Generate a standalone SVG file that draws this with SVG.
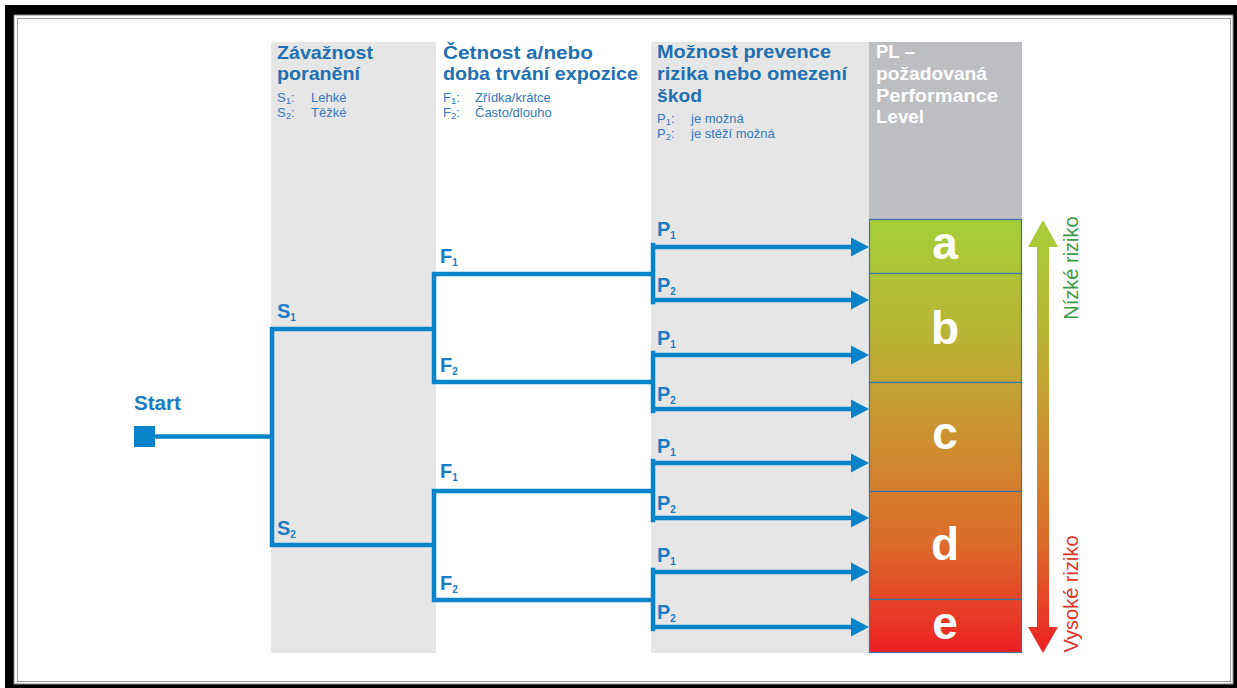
<svg xmlns="http://www.w3.org/2000/svg" width="1237" height="688" viewBox="0 0 1237 688">
<style>
.h{font-family:"Liberation Sans",Arial,sans-serif;font-weight:bold;font-size:18.5px;fill:#1f6fb2}
.hw{font-family:"Liberation Sans",Arial,sans-serif;font-weight:bold;font-size:18.5px;fill:#ffffff}
.s{font-family:"Liberation Sans",Arial,sans-serif;font-size:13px;fill:#3479bd}
.ss{font-size:9.5px}
.b{font-family:"Liberation Sans",Arial,sans-serif;font-weight:bold;font-size:20px;fill:#1a7cc4}
.bs{font-size:10px}
.l{font-family:"Liberation Sans",Arial,sans-serif;font-weight:bold;font-size:46px;fill:#ffffff;text-anchor:middle}
.c{fill:none;stroke:#0983c9;stroke-width:4.5}
.box{stroke:#3576a8;stroke-width:1.2}
.r{font-family:"Liberation Sans",Arial,sans-serif;font-size:20px;text-anchor:middle}
</style>
<defs>
<linearGradient id="g" gradientUnits="userSpaceOnUse" x1="0" y1="219" x2="0" y2="653">
<stop offset="0" stop-color="#a6ce39"/>
<stop offset="0.256" stop-color="#b8b535"/>
<stop offset="0.502" stop-color="#cd9130"/>
<stop offset="0.751" stop-color="#dc6a2a"/>
<stop offset="0.947" stop-color="#ea3125"/>
<stop offset="1" stop-color="#ed1c24"/>
</linearGradient>
<marker id="ah" markerUnits="userSpaceOnUse" markerWidth="18" markerHeight="20" refX="1" refY="10" orient="auto">
<path d="M0,0.5 L18,10 L0,19.5 z" fill="#0983c9"/>
</marker>
</defs>

<g id="frame">
<rect x="5" y="5" width="1232" height="683" fill="#000"/>
<rect x="14" y="15" width="1219" height="669" fill="#fff" stroke="#8a8a8a" stroke-width="1"/>
<rect x="17.5" y="18.5" width="1213" height="663" fill="none" stroke="#a0a0a0" stroke-width="1"/>
</g>

<g id="columns">
<rect x="271" y="42" width="165" height="611" fill="#e6e6e6"/>
<rect x="651" y="42" width="218" height="611" fill="#e6e6e6"/>
<rect x="869" y="42" width="153" height="177" fill="#bdbec2"/>
</g>

<g id="col-severity">
<text class="h" x="277" y="59" textLength="96" lengthAdjust="spacingAndGlyphs">Závažnost</text>
<text class="h" x="277" y="80" textLength="83" lengthAdjust="spacingAndGlyphs">poranění</text>
<text class="s" x="277" y="102">S<tspan class="ss" dy="2">1</tspan><tspan dy="-2">:</tspan><tspan x="311">Lehké</tspan></text>
<text class="s" x="277" y="117">S<tspan class="ss" dy="2">2</tspan><tspan dy="-2">:</tspan><tspan x="311">Těžké</tspan></text>
</g>

<g id="col-frequency">
<text class="h" x="443" y="59" textLength="150" lengthAdjust="spacingAndGlyphs">Četnost a/nebo</text>
<text class="h" x="443" y="80" textLength="195" lengthAdjust="spacingAndGlyphs">doba trvání expozice</text>
<text class="s" x="443" y="102">F<tspan class="ss" dy="2">1</tspan><tspan dy="-2">:</tspan><tspan x="475">Zřídka/krátce</tspan></text>
<text class="s" x="443" y="117">F<tspan class="ss" dy="2">2</tspan><tspan dy="-2">:</tspan><tspan x="475">Často/dlouho</tspan></text>
</g>

<g id="col-prevention">
<text class="h" x="657" y="58" textLength="174" lengthAdjust="spacingAndGlyphs">Možnost prevence</text>
<text class="h" x="657" y="80" textLength="190" lengthAdjust="spacingAndGlyphs">rizika nebo omezení</text>
<text class="h" x="657" y="102" textLength="45" lengthAdjust="spacingAndGlyphs">škod</text>
<text class="s" x="657" y="123">P<tspan class="ss" dy="2">1</tspan><tspan dy="-2">:</tspan><tspan x="691">je možná</tspan></text>
<text class="s" x="657" y="138">P<tspan class="ss" dy="2">2</tspan><tspan dy="-2">:</tspan><tspan x="691">je stěží možná</tspan></text>
</g>

<g id="col-pl">
<text class="hw" x="876" y="58">PL –</text>
<text class="hw" x="876" y="80" textLength="111" lengthAdjust="spacingAndGlyphs">požadovaná</text>
<text class="hw" x="876" y="102" textLength="122" lengthAdjust="spacingAndGlyphs">Performance</text>
<text class="hw" x="876" y="123" textLength="48" lengthAdjust="spacingAndGlyphs">Level</text>
</g>

<g id="start">
<rect x="134" y="426" width="21" height="21" fill="#0983c9"/>
<text class="b" x="134" y="410" textLength="47" lengthAdjust="spacingAndGlyphs">Start</text>
</g>

<g id="connectors">
<path class="c" d="M153,436.5 H272"/>
<path class="c" d="M434,329 H272 V545 H434"/>
<path class="c" d="M653,274 H434 V382 H653"/>
<path class="c" d="M653,491 H434 V600 H653"/>
<path class="c" d="M653,245 V302" stroke-linecap="square"/>
<path class="c" d="M653,353 V411" stroke-linecap="square"/>
<path class="c" d="M653,461 V520" stroke-linecap="square"/>
<path class="c" d="M653,570 V629" stroke-linecap="square"/>
<path class="c" d="M651,247 H852" marker-end="url(#ah)"/>
<path class="c" d="M651,300 H852" marker-end="url(#ah)"/>
<path class="c" d="M651,355 H852" marker-end="url(#ah)"/>
<path class="c" d="M651,409 H852" marker-end="url(#ah)"/>
<path class="c" d="M651,463 H852" marker-end="url(#ah)"/>
<path class="c" d="M651,518 H852" marker-end="url(#ah)"/>
<path class="c" d="M651,572 H852" marker-end="url(#ah)"/>
<path class="c" d="M651,627 H852" marker-end="url(#ah)"/>
</g>

<g id="branch-labels">
<text class="b" x="277" y="318">S<tspan class="bs" dy="3">1</tspan></text>
<text class="b" x="277" y="535">S<tspan class="bs" dy="3">2</tspan></text>
<text class="b" x="440" y="263">F<tspan class="bs" dy="3">1</tspan></text>
<text class="b" x="440" y="372">F<tspan class="bs" dy="3">2</tspan></text>
<text class="b" x="440" y="478">F<tspan class="bs" dy="3">1</tspan></text>
<text class="b" x="440" y="590">F<tspan class="bs" dy="3">2</tspan></text>
<text class="b" x="657" y="236">P<tspan class="bs" dy="3">1</tspan></text>
<text class="b" x="657" y="292">P<tspan class="bs" dy="3">2</tspan></text>
<text class="b" x="657" y="345">P<tspan class="bs" dy="3">1</tspan></text>
<text class="b" x="657" y="401">P<tspan class="bs" dy="3">2</tspan></text>
<text class="b" x="657" y="453">P<tspan class="bs" dy="3">1</tspan></text>
<text class="b" x="657" y="510">P<tspan class="bs" dy="3">2</tspan></text>
<text class="b" x="657" y="562">P<tspan class="bs" dy="3">1</tspan></text>
<text class="b" x="657" y="619">P<tspan class="bs" dy="3">2</tspan></text>
</g>

<g id="pl-a"><rect class="box" x="869.5" y="219.5" width="152" height="54" fill="url(#g)"/><text class="l" x="945" y="259">a</text></g>
<g id="pl-b"><rect class="box" x="869.5" y="273.5" width="152" height="109" fill="url(#g)"/><text class="l" x="945" y="344">b</text></g>
<g id="pl-c"><rect class="box" x="869.5" y="382.5" width="152" height="109" fill="url(#g)"/><text class="l" x="945" y="449">c</text></g>
<g id="pl-d"><rect class="box" x="869.5" y="491.5" width="152" height="108" fill="url(#g)"/><text class="l" x="945" y="560">d</text></g>
<g id="pl-e"><rect class="box" x="869.5" y="599.5" width="152" height="53" fill="url(#g)"/><text class="l" x="945" y="639">e</text></g>

<g id="risk-arrow">
<path d="M1043,220 L1058,247 L1049,247 L1049,627 L1058,627 L1043,653 L1028,627 L1037,627 L1037,247 L1028,247 z" fill="url(#g)"/>
<text class="r" fill="#3a9a47" transform="translate(1078,268) rotate(-90)">Nízké riziko</text>
<text class="r" fill="#d8352a" transform="translate(1078,594) rotate(-90)">Vysoké riziko</text>
</g>
</svg>
